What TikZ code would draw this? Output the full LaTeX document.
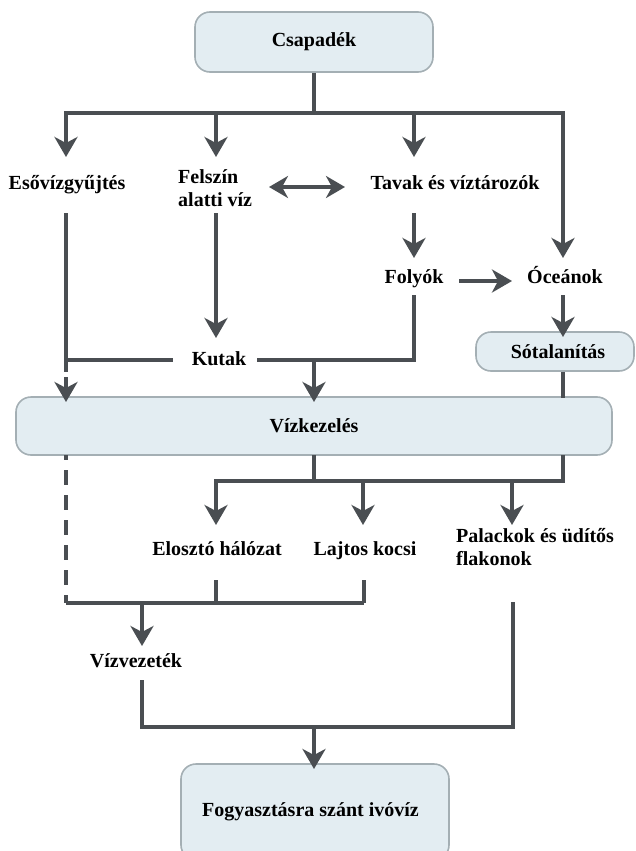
\documentclass[tikz,border=0pt]{standalone}
\usepackage{fontspec}
\setmainfont{Liberation Serif}
\usetikzlibrary{arrows.meta}
\definecolor{ln}{HTML}{4A4E52}
\definecolor{boxfill}{HTML}{E3EDF2}
\definecolor{boxdraw}{HTML}{A4AFB4}
\begin{document}
\begin{tikzpicture}[x=1pt,y=-1pt,
  lbl/.style={font=\bfseries\fontsize{20}{23}\selectfont, inner sep=0pt, anchor=base},
  pbox/.style={draw=boxdraw, line width=1.6pt, fill=boxfill, rounded corners=15pt,
    font=\bfseries\fontsize{20}{23}\selectfont, inner sep=0pt},
  conn/.style={draw=ln, line width=3.8pt, line join=miter},
  arr/.style={conn, -{Stealth[length=20pt,width=23pt,inset=6pt]}},
  darr/.style={conn, {Stealth[length=19pt,width=22pt,inset=6pt]}-{Stealth[length=19pt,width=22pt,inset=6pt]}}
]
\useasboundingbox (0,0) rectangle (636,851);

% boxes
\node[pbox, minimum width=238pt, minimum height=60pt] (csap) at (314,42) {Csapadék};
\node[pbox, minimum width=158pt, minimum height=39pt] (sotal) at (555,351.5) {\hspace*{6pt}Sótalanítás};
\node[pbox, minimum width=596pt, minimum height=58pt] (vizk) at (314,426) {Vízkezelés};
\node[pbox, minimum width=268pt, minimum height=96pt] (fogy) at (315,812) {\hspace*{-9pt}Fogyasztásra szánt ivóvíz};

% labels
\node[lbl] (eso) at (67,189) {Esővízgyűjtés};
\node[lbl, anchor=base west] (felszin) at (178,183) {\vtop{\baselineskip=23pt\hbox{Felszín}\hbox{alatti víz}}};
\node[lbl] (tavak) at (455,189) {Tavak és víztározók};
\node[lbl] (folyok) at (414,283) {Folyók};
\node[lbl] (ocean) at (565,283) {Óceánok};
\node[lbl] (kutak) at (219,365) {Kutak};
\node[lbl] (eloszto) at (217,555) {Elosztó hálózat};
\node[lbl] (lajtos) at (365,555) {Lajtos kocsi};
\node[lbl, anchor=base west] (palack) at (456,542) {\vtop{\baselineskip=23pt\hbox{Palackok és üdítős}\hbox{flakonok}}};
\node[lbl] (vizvez) at (136,667) {Vízvezeték};

% coordinates
\coordinate (jt) at (314,113);
\coordinate (t2) at (216,113);
\coordinate (t3) at (414,113);
\coordinate (a1) at (66,157);
\coordinate (a2) at (216,157);
\coordinate (a3) at (414,157);
\coordinate (a4) at (563,258);
\coordinate (d1) at (269,187);
\coordinate (d2) at (345,187);
\coordinate (e0) at (66,213);
\coordinate (e1) at (66,360);
\coordinate (k1) at (173,360);
\coordinate (k2) at (257,360);
\coordinate (f0) at (216,213);
\coordinate (fk) at (216,338);
\coordinate (ta0) at (414,213);
\coordinate (fo) at (414,258);
\coordinate (fo1) at (459,281);
\coordinate (fo2) at (512,281);
\coordinate (fl0) at (414,295);
\coordinate (kj) at (314,360);
\coordinate (vt) at (314,402);
\coordinate (vl) at (66,402);
\coordinate (oc0) at (563,295);
\coordinate (oc1) at (563,337);
\coordinate (sv) at (563,398);
\coordinate (b1) at (314,455);
\coordinate (b2) at (314,481);
\coordinate (b3) at (563,455);
\coordinate (b5) at (216,481);
\coordinate (b6) at (363,481);
\coordinate (b7) at (512,481);
\coordinate (c5) at (216,525);
\coordinate (c6) at (363,525);
\coordinate (c7) at (512,525);
\coordinate (g0) at (66,455);
\coordinate (g1) at (66,603);
\coordinate (g2) at (364,603);
\coordinate (h1) at (216,580);
\coordinate (h2) at (364,580);
\coordinate (h1b) at (216,603);
\coordinate (vv0) at (142,603);
\coordinate (vv1) at (142,646);
\coordinate (w0) at (142,680);
\coordinate (w1) at (142,727);
\coordinate (w2) at (513,727);
\coordinate (w3) at (513,602);
\coordinate (wj) at (314,727);
\coordinate (wt) at (314,769);

% top tree
\draw[conn] (csap.south) -- (jt);
\draw[arr] (jt) -| (a1);
\draw[arr] (jt) -| (a4);
\draw[arr] (t2) -- (a2);
\draw[arr] (t3) -- (a3);
\draw[darr] (d1) -- (d2);

% middle
\draw[conn] (e0) |- (k1);
\draw[arr, dash pattern=on 12pt off 5pt] (e1) -- (vl);
\draw[arr] (f0) -- (fk);
\draw[arr] (ta0) -- (fo);
\draw[arr] (fo1) -- (fo2);
\draw[conn] (fl0) |- (k2);
\draw[arr] (kj) -- (vt);
\draw[arr] (oc0) -- (oc1);
\draw[conn] (sv |- sotal.south) -- (sv);

% below treatment
\draw[conn] (b1) -- (b2);
\draw[arr] (b3) |- (b5) -- (c5);
\draw[arr] (b6) -- (c6);
\draw[arr] (b7) -- (c7);
\draw[conn, dash pattern=on 15pt off 10pt, dash phase=10pt] (g0) -- (g1);
\draw[conn] (g1) -- (g2);
\draw[conn] (h1) -- (h1b);
\draw[conn] (h2) -- (g2);
\draw[arr] (vv0) -- (vv1);
\draw[conn] (w0) |- (w2) -- (w3);
\draw[arr] (wj) -- (wt);
\end{tikzpicture}
\end{document}
